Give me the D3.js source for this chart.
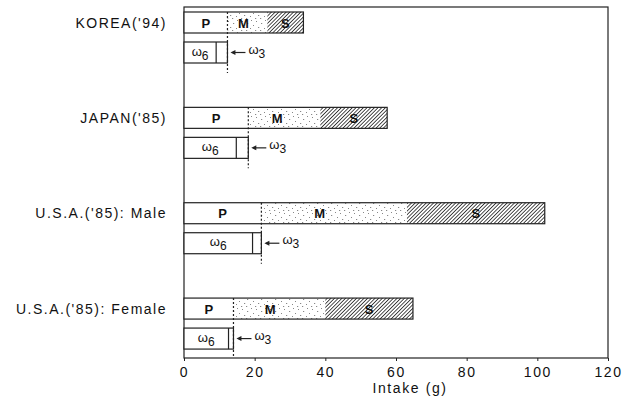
<!DOCTYPE html>
<html>
<head>
<meta charset="utf-8">
<script src="https://cdn.jsdelivr.net/npm/d3@7"></script>
<style>
  body { margin: 0; background: #fff; }
  text { font-family: "Liberation Sans", Arial, sans-serif; fill: #111; }
</style>
</head>
<body>
<script>

// data (g / day)
let countries = ["KOREA('94)", "JAPAN('85)", "U.S.A.('85): Male", "U.S.A.('85): Female"];
let pufa = [12.3, 18.2, 21.9, 14.0];
let mufa = [11.3, 20.4, 41.2, 26.0];
let sfa = [10.2, 18.9, 39.0, 24.8];
let omega6 = [9.1, 14.8, 19.4, 12.6];
let omega3 = [3.2, 3.4, 2.5, 1.4];
let xTicks = [0, 20, 40, 60, 80, 100, 120];

let margin = null,
  width = null,
  height = null;

let svg = null;
let x, y = null; // scales
let barH = 21, omegaOffset = 30;

main();

function main() {
  setupCanvasSize();
  appendSvg("body");
  setupPatterns();
  setupXScale();
  setupYScale();
  appendFrame();
  appendXAxis();
  appendBars();
  appendOmegaBars();
  appendLabels();
}

function setupCanvasSize() {
  margin = { top: 7, left: 184, bottom: 47, right: 31 };
  width = 639 - margin.left - margin.right;
  height = 405 - margin.top - margin.bottom;
}

function appendSvg(domElement) {
  let root = d3.select(domElement).append("svg")
    .attr("width", width + margin.left + margin.right)
    .attr("height", height + margin.top + margin.bottom);
  svg = root.append("g")
    .attr("transform", `translate(${margin.left}, ${margin.top})`);
}

function setupPatterns() {
  let defs = d3.select("svg").append("defs");

  // speckled fill for M
  let dots = defs.append("pattern")
    .attr("id", "speckle")
    .attr("patternUnits", "userSpaceOnUse")
    .attr("width", 14).attr("height", 12);
  dots.append("rect").attr("width", 14).attr("height", 12).attr("fill", "#fff");
  [[2, 2], [7, 4], [11, 1], [4, 8], [10, 9], [1, 11], [13, 6], [6, 11]].forEach(function (p, i) {
    dots.append("rect")
      .attr("x", p[0]).attr("y", p[1])
      .attr("width", i % 2 ? 1.2 : 1).attr("height", 1)
      .attr("fill", "#888");
  });

  // diagonal hatch for S
  let hatch = defs.append("pattern")
    .attr("id", "hatch")
    .attr("patternUnits", "userSpaceOnUse")
    .attr("width", 2.6).attr("height", 2.6)
    .attr("patternTransform", "rotate(45)");
  hatch.append("rect").attr("width", 2.6).attr("height", 2.6).attr("fill", "#fff");
  hatch.append("line")
    .attr("x1", 0).attr("y1", 0).attr("x2", 0).attr("y2", 2.6)
    .attr("stroke", "#222").attr("stroke-width", 1.6);
}

function setupXScale() {
  x = d3.scaleLinear()
    .range([0, width])
    .domain([0, 120]);
}

function setupYScale() {
  // each band holds the fatty acid bar and the omega bar under it
  y = d3.scaleBand()
    .domain(countries)
    .range([12 - margin.top, 349 - margin.top])
    .paddingInner(0.466)
    .paddingOuter(0);
}

function appendFrame() {
  svg.append("rect")
    .attr("x", 0).attr("y", 0)
    .attr("width", width).attr("height", height)
    .attr("fill", "none")
    .attr("stroke", "#222")
    .attr("stroke-width", 1.2);
}

function appendXAxis() {
  let axis = svg.append("g")
    .attr("transform", `translate(0, ${height})`)
    .call(d3.axisBottom(x).tickValues(xTicks).tickSize(3).tickPadding(6));
  axis.select(".domain").remove();
  axis.selectAll("line").attr("stroke", "#222");
  axis.selectAll("text")
    .style("font-family", "Liberation Sans, Arial, sans-serif")
    .style("font-size", "14px")
    .style("letter-spacing", "1.6px")
    .attr("fill", "#111");

  svg.append("text")
    .attr("x", 226)
    .attr("y", 393 - margin.top)
    .attr("text-anchor", "middle")
    .style("font-size", "14px")
    .style("letter-spacing", "1.6px")
    .text("Intake (g)");
}

function appendBars() {
  countries.forEach(function (c, i) {
    let top = y(c);
    let segs = [
      { name: "P", from: 0, to: pufa[i], fill: "#fff" },
      { name: "M", from: pufa[i], to: pufa[i] + mufa[i], fill: "url(#speckle)" },
      { name: "S", from: pufa[i] + mufa[i], to: pufa[i] + mufa[i] + sfa[i], fill: "url(#hatch)" }
    ];
    let g = svg.append("g");
    g.selectAll("rect")
      .data(segs)
      .enter()
      .append("rect")
      .attr("x", function (d) { return x(d.from); })
      .attr("y", top)
      .attr("width", function (d) { return x(d.to) - x(d.from); })
      .attr("height", barH)
      .attr("fill", function (d) { return d.fill; });

    // outline of the whole bar
    g.append("rect")
      .attr("x", x(0)).attr("y", top)
      .attr("width", x(segs[2].to)).attr("height", barH)
      .attr("fill", "none")
      .attr("stroke", "#222")
      .attr("stroke-width", 1.2);

    g.selectAll("text")
      .data(segs)
      .enter()
      .append("text")
      .attr("x", function (d) {
        let w = x(d.to) - x(d.from);
        let mid = x(d.from) + w / 2;
        return d.name == "M" ? mid - w * 0.1 : mid;
      })
      .attr("y", top + barH / 2 + 5)
      .attr("text-anchor", "middle")
      .style("font-size", "13px")
      .style("font-weight", "bold")
      .text(function (d) { return d.name; });
  });
}

function appendOmegaBars() {
  countries.forEach(function (c, i) {
    let top = y(c) + omegaOffset;
    let end = omega6[i] + omega3[i];
    let g = svg.append("g");

    g.append("rect")
      .attr("x", x(0)).attr("y", top)
      .attr("width", x(end)).attr("height", barH)
      .attr("fill", "#fff")
      .attr("stroke", "#222")
      .attr("stroke-width", 1.2);

    g.append("line")
      .attr("x1", x(omega6[i])).attr("x2", x(omega6[i]))
      .attr("y1", top).attr("y2", top + barH)
      .attr("stroke", "#222")
      .attr("stroke-width", 1.2);

    // dotted guide down from the end of P
    g.append("line")
      .attr("x1", x(pufa[i])).attr("x2", x(pufa[i]))
      .attr("y1", y(c)).attr("y2", Math.min(top + barH + 10, height))
      .attr("stroke", "#222")
      .attr("stroke-width", 1.2)
      .attr("stroke-dasharray", "2,2");

    let w6 = g.append("text")
      .attr("x", x(omega6[i]) / 2)
      .attr("y", top + barH / 2 + 3)
      .attr("text-anchor", "middle")
      .style("font-size", "13px");
    w6.append("tspan").text("ω");
    w6.append("tspan").attr("dy", 4).style("font-size", "12px").text("6");

    // arrow pointing at the omega-3 part
    let ax = x(end) + 3;
    g.append("line")
      .attr("x1", ax + 2).attr("x2", ax + 15)
      .attr("y1", top + barH / 2).attr("y2", top + barH / 2)
      .attr("stroke", "#222")
      .attr("stroke-width", 1.2);
    g.append("path")
      .attr("d", `M${ax},${top + barH / 2} l5,-2.5 l0,5 z`)
      .attr("fill", "#222");

    let w3 = g.append("text")
      .attr("x", ax + 18)
      .attr("y", top + barH / 2 + 1)
      .style("font-size", "13px");
    w3.append("tspan").text("ω");
    w3.append("tspan").attr("dy", 4).style("font-size", "12px").text("3");
  });
}

function appendLabels() {
  svg.selectAll(".country")
    .data(countries)
    .enter()
    .append("text")
    .attr("class", "country")
    .attr("x", 167 - margin.left)
    .attr("y", function (d) { return y(d) + barH / 2 + 5; })
    .attr("text-anchor", "end")
    .style("font-size", "14px")
    .style("letter-spacing", "1.5px")
    .text(function (d) { return d; });
}

</script>
</body>
</html>
